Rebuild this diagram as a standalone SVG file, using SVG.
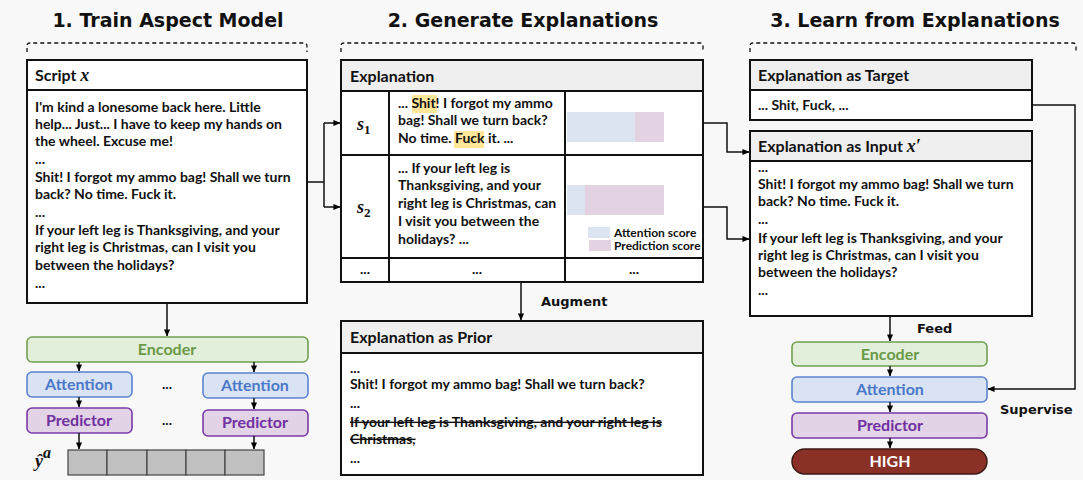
<svg xmlns="http://www.w3.org/2000/svg" width="1083" height="480" viewBox="0 0 1083 480">
<defs>
<marker id="ah" viewBox="0 0 8 8" refX="7.5" refY="4" markerWidth="7" markerHeight="7" markerUnits="userSpaceOnUse" orient="auto"><path d="M0,0.5 L8,4 L0,7.5 z" fill="#000"/></marker>
<style>
.t{font-family:Lato,"Liberation Sans",sans-serif;font-weight:bold;font-size:14px;fill:#111}
.h{font-family:Lato,"Liberation Sans",sans-serif;font-weight:bold;font-size:16px;fill:#111}
.ttl{font-family:"DejaVu Sans",sans-serif;font-weight:bold;font-size:19px;fill:#111;text-anchor:middle}
.lab{font-family:"DejaVu Sans",sans-serif;font-weight:bold;font-size:13px;fill:#111}
.m{font-family:"Liberation Serif",serif;font-style:italic;font-weight:bold;font-size:18px;fill:#111}
.box{fill:#fff;stroke:#111;stroke-width:2}
.hdr{fill:#efefef;stroke:#111;stroke-width:2}
.dash{fill:none;stroke:#111;stroke-width:1.3;stroke-dasharray:4 3}
.c{fill:none;stroke:#111;stroke-width:1.5}
.enc{fill:#e2efda;stroke:#70a050;stroke-width:1.6}
.att{fill:#dae3f3;stroke:#5b84d0;stroke-width:1.6}
.pre{fill:#e2d3e6;stroke:#7a3aa8;stroke-width:1.6}
.et{font-family:Lato,"Liberation Sans",sans-serif;font-weight:bold;font-size:16px;text-anchor:middle}
.cell{fill:#c0c0c0;stroke:#444;stroke-width:1.2}
.hl{fill:#ffe699}
.ab{fill:#dce3f1}
.pb{fill:#e3d3e2}
.lg{font-family:Lato,"Liberation Sans",sans-serif;font-weight:bold;font-size:12px;fill:#111}
</style>
</defs>
<rect x="0" y="0" width="1083" height="480" fill="#f8f8f8"/>

<g id="titles">
<text class="ttl" x="168" y="27">1. Train Aspect Model</text>
<text class="ttl" x="523" y="27">2. Generate Explanations</text>
<text class="ttl" x="915" y="27">3. Learn from Explanations</text>
<path class="dash" d="M27,52 V46 Q27,43 30,43 H304 Q307,43 307,46 V52"/>
<path class="dash" d="M341,52 V46 Q341,43 344,43 H700 Q703,43 703,46 V52"/>
<path class="dash" d="M750,52 V46 Q750,43 753,43 H1073 Q1076,43 1076,46 V52"/>
</g>

<g id="script">
<rect class="box" x="27" y="60" width="280" height="243"/>
<line x1="27" y1="90" x2="307" y2="90" stroke="#111" stroke-width="2"/>
<text class="h" x="35" y="81">Script <tspan class="m" font-weight="normal">x</tspan></text>
<text class="t" x="35" y="112">I'm kind a lonesome back here. Little</text>
<text class="t" x="35" y="129">help... Just... I have to keep my hands on</text>
<text class="t" x="35" y="146">the wheel. Excuse me!</text>
<text class="t" x="35" y="164">...</text>
<text class="t" x="35" y="182">Shit! I forgot my ammo bag! Shall we turn</text>
<text class="t" x="35" y="199">back? No time. Fuck it.</text>
<text class="t" x="35" y="217">...</text>
<text class="t" x="35" y="235">If your left leg is Thanksgiving, and your</text>
<text class="t" x="35" y="252">right leg is Christmas, can I visit you</text>
<text class="t" x="35" y="270">between the holidays?</text>
<text class="t" x="35" y="288">...</text>
</g>

<g id="encoder1">
<rect class="enc" x="27" y="337" width="281" height="25" rx="5"/>
<text class="et" x="167" y="355" fill="#6a9a48">Encoder</text>
</g>
<g id="attention1a">
<rect class="att" x="27" y="372" width="105" height="25" rx="5"/>
<text class="et" x="79" y="390" fill="#4a78c8">Attention</text>
</g>
<g id="attention1b">
<rect class="att" x="203" y="373" width="105" height="25" rx="5"/>
<text class="et" x="255" y="391" fill="#4a78c8">Attention</text>
</g>
<g id="predictor1a">
<rect class="pre" x="27" y="408" width="105" height="25" rx="5"/>
<text class="et" x="79" y="426" fill="#7030a0">Predictor</text>
</g>
<g id="predictor1b">
<rect class="pre" x="203" y="410" width="105" height="26" rx="5"/>
<text class="et" x="255" y="428" fill="#7030a0">Predictor</text>
</g>
<text class="t" x="167" y="389" text-anchor="middle">...</text>
<text class="t" x="167" y="425" text-anchor="middle">...</text>

<g id="output1">
<rect class="cell" x="68" y="450" width="39" height="25"/>
<rect class="cell" x="107" y="450" width="40" height="25"/>
<rect class="cell" x="147" y="450" width="39" height="25"/>
<rect class="cell" x="186" y="450" width="39" height="25"/>
<rect class="cell" x="225" y="450" width="39" height="25"/>
<text class="m" x="35" y="467" font-size="24">ŷ<tspan font-size="16" dy="-9">a</tspan></text>
</g>

<g id="explanation">
<rect class="box" x="341" y="60" width="362" height="222"/>
<rect class="hdr" x="341" y="60" width="362" height="31"/>
<text class="h" x="350" y="82">Explanation</text>
<line x1="341" y1="155" x2="703" y2="155" stroke="#111" stroke-width="2"/>
<line x1="341" y1="258" x2="703" y2="258" stroke="#111" stroke-width="2"/>
<line x1="389" y1="91" x2="389" y2="282" stroke="#111" stroke-width="2"/>
<line x1="565" y1="91" x2="565" y2="282" stroke="#111" stroke-width="2"/>
<text class="m" x="357" y="130">s<tspan font-size="13" dy="4" font-style="normal">1</tspan></text>
<text class="m" x="357" y="213">s<tspan font-size="13" dy="4" font-style="normal">2</tspan></text>
<rect class="hl" x="412" y="95" width="25" height="18"/>
<rect class="hl" x="454" y="131" width="30" height="17"/>
<text class="t" x="398" y="108">... Shit! I forgot my ammo</text>
<text class="t" x="398" y="125">bag! Shall we turn back?</text>
<text class="t" x="398" y="143">No time. Fuck it. ...</text>
<text class="t" x="398" y="173">... If your left leg is</text>
<text class="t" x="398" y="190">Thanksgiving, and your</text>
<text class="t" x="398" y="208">right leg is Christmas, can</text>
<text class="t" x="398" y="226">I visit you between the</text>
<text class="t" x="398" y="244">holidays? ...</text>
<rect class="ab" x="567" y="112" width="68" height="30"/>
<rect class="pb" x="635" y="112" width="29" height="30"/>
<rect class="ab" x="567" y="185" width="18" height="30"/>
<rect class="pb" x="585" y="185" width="79" height="30"/>
<rect class="ab" x="588" y="227" width="22" height="11"/>
<text class="lg" x="614" y="237">Attention score</text>
<rect class="pb" x="589" y="240" width="22" height="11"/>
<text class="lg" x="614" y="250">Prediction score</text>
<text class="t" x="365" y="274" text-anchor="middle">...</text>
<text class="t" x="477" y="274" text-anchor="middle">...</text>
<text class="t" x="634" y="274" text-anchor="middle">...</text>
</g>

<g id="prior">
<rect class="box" x="341" y="321" width="362" height="154"/>
<rect class="hdr" x="341" y="321" width="362" height="32"/>
<text class="h" x="350" y="343">Explanation as Prior</text>
<text class="t" x="350" y="373">...</text>
<text class="t" x="350" y="389">Shit! I forgot my ammo bag! Shall we turn back?</text>
<text class="t" x="350" y="408">...</text>
<text class="t" x="350" y="427" text-decoration="line-through">If your left leg is Thanksgiving, and your right leg is</text>
<text class="t" x="350" y="444" text-decoration="line-through">Christmas,</text>
<text class="t" x="350" y="463">...</text>
</g>

<g id="target">
<rect class="box" x="750" y="60" width="282" height="60"/>
<rect class="hdr" x="750" y="60" width="282" height="30"/>
<text class="h" x="758" y="81">Explanation as Target</text>
<text class="t" x="758" y="110">... Shit, Fuck, ...</text>
</g>

<g id="input">
<rect class="box" x="750" y="131" width="282" height="185"/>
<rect class="hdr" x="750" y="131" width="282" height="30"/>
<text class="h" x="758" y="152">Explanation as Input <tspan class="m" font-weight="normal">x′</tspan></text>
<text class="t" x="758" y="172">...</text>
<text class="t" x="758" y="189">Shit! I forgot my ammo bag! Shall we turn</text>
<text class="t" x="758" y="206">back? No time. Fuck it.</text>
<text class="t" x="758" y="224">...</text>
<text class="t" x="758" y="243">If your left leg is Thanksgiving, and your</text>
<text class="t" x="758" y="260">right leg is Christmas, can I visit you</text>
<text class="t" x="758" y="277">between the holidays?</text>
<text class="t" x="758" y="295">...</text>
</g>

<g id="encoder3">
<rect class="enc" x="792" y="342" width="195" height="24" rx="5"/>
<text class="et" x="890" y="360" fill="#6a9a48">Encoder</text>
</g>
<g id="attention3">
<rect class="att" x="792" y="377" width="195" height="25" rx="5"/>
<text class="et" x="890" y="395" fill="#4a78c8">Attention</text>
</g>
<g id="predictor3">
<rect class="pre" x="792" y="413" width="195" height="25" rx="5"/>
<text class="et" x="890" y="431" fill="#7030a0">Predictor</text>
</g>
<g id="high">
<rect x="792" y="449" width="195" height="25" rx="12.5" fill="#8b3026" stroke="#3a1a14" stroke-width="1.5"/>
<text class="et" x="890" y="467" fill="#fff">HIGH</text>
</g>

<g id="connectors">
<path class="c" d="M307,182 H324"/>
<path class="c" d="M324,123 V207"/>
<path class="c" d="M324,123 H340" marker-end="url(#ah)"/>
<path class="c" d="M324,207 H340" marker-end="url(#ah)"/>
<path class="c" d="M167,303 V336" marker-end="url(#ah)"/>
<path class="c" d="M79,362 V371" marker-end="url(#ah)"/>
<path class="c" d="M254,362 V372" marker-end="url(#ah)"/>
<path class="c" d="M79,397 V407" marker-end="url(#ah)"/>
<path class="c" d="M254,398 V409" marker-end="url(#ah)"/>
<path class="c" d="M79,433 V449" marker-end="url(#ah)"/>
<path class="c" d="M254,436 V449" marker-end="url(#ah)"/>
<path class="c" d="M521,282 V320" marker-end="url(#ah)"/>
<path class="c" d="M703,123 H727 V152 H749" marker-end="url(#ah)"/>
<path class="c" d="M703,207 H727 V239 H749" marker-end="url(#ah)"/>
<path class="c" d="M1032,105 H1075 V389 H988" marker-end="url(#ah)"/>
<path class="c" d="M890,316 V341" marker-end="url(#ah)"/>
<path class="c" d="M890,366 V376" marker-end="url(#ah)"/>
<path class="c" d="M890,402 V412" marker-end="url(#ah)"/>
<path class="c" d="M890,438 V448" marker-end="url(#ah)"/>
<text class="lab" x="541" y="306">Augment</text>
<text class="lab" x="917" y="333">Feed</text>
<text class="lab" x="1000" y="414">Supervise</text>
</g>
</svg>
